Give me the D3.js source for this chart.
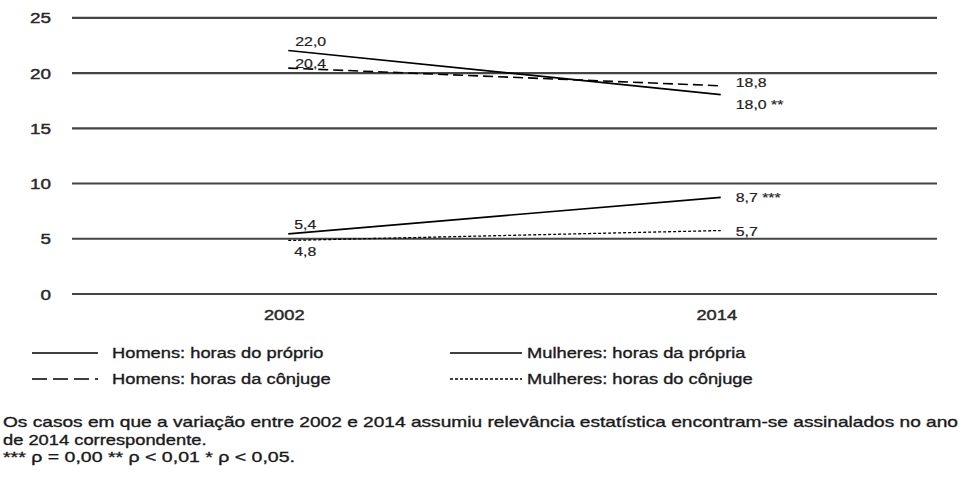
<!DOCTYPE html>
<html>
<head>
<meta charset="utf-8">
<script src="https://cdn.jsdelivr.net/npm/d3@7"></script>
<style>
  html, body { margin: 0; padding: 0; background: #fff; }
  svg { display: block; font-family: "Liberation Sans", Arial, sans-serif; }
</style>
</head>
<body>
<svg id="chart" width="963" height="477"></svg>
<script>
// ---------------- DATA ----------------
const years = ["2002", "2014"];
const yTicks = [0, 5, 10, 15, 20, 25];

const seriesNames = [
  "Homens: horas do próprio",
  "Homens: horas da cônjuge",
  "Mulheres: horas da própria",
  "Mulheres: horas do cônjuge"
];
const homensProprio   = [22.0, 18.0];
const homensConjuge   = [20.4, 18.8];
const mulheresPropria = [5.4, 8.7];
const mulheresConjuge = [4.8, 5.7];

const homensProprioSig   = ["", "**"];
const homensConjugeSig   = ["", ""];
const mulheresPropriaSig = ["", "***"];
const mulheresConjugeSig = ["", ""];

const footnoteLines = [
  "Os casos em que a variação entre 2002 e 2014 assumiu relevância estatística encontram-se assinalados no ano",
  "de 2014 correspondente.",
  "*** ρ = 0,00 ** ρ < 0,01 * ρ < 0,05."
];

// ---------------- STYLE / LAYOUT ----------------
const SX = 1.22; // horizontal stretch of the reference's type
const plot = { left: 72, right: 937, top: 17.3, bottom: 293.5 };

const styles = [
  { dash: null,    width: 1.6, legendDash: null },
  { dash: "10,5",  width: 1.6, legendDash: "15,6" },
  { dash: null,    width: 1.6, legendDash: null },
  { dash: "3,2",   width: 1.3, legendDash: "3,2" }
];
// label offsets (dx, dy) relative to point, per series per year
const labelOffsets = [
  [[7, -4], [15, 14]],
  [[7, 0],  [15, 1]],
  [[6, -5], [15, 5]],
  [[6, 16], [15, 5]]
];
const footTargets = [955, null, 292];

const series = [
  { name: seriesNames[0], values: homensProprio,   sig: homensProprioSig },
  { name: seriesNames[1], values: homensConjuge,   sig: homensConjugeSig },
  { name: seriesNames[2], values: mulheresPropria, sig: mulheresPropriaSig },
  { name: seriesNames[3], values: mulheresConjuge, sig: mulheresConjugeSig }
];

const svg = d3.select("#chart");
svg.append("rect").attr("width", 963).attr("height", 477).attr("fill", "#fff");

const x = d3.scalePoint().domain(years).range([plot.left, plot.right]).padding(0.5);
const y = d3.scaleLinear().domain([0, 25]).range([plot.bottom, plot.top]);

const fmt = v => d3.format(".1f")(v).replace(".", ",");

function stretchedText(parent, px, py, str, opts) {
  const g = parent.append("g").attr("transform", `translate(${px},${py}) scale(${SX},1)`);
  return g.append("text")
    .attr("text-anchor", opts.anchor || "start")
    .attr("font-size", opts.size || 15)
    .attr("fill", opts.fill || "#222")
    .attr("stroke", opts.fill || "#222")
    .attr("stroke-width", opts.sw == null ? 0.3 : opts.sw)
    .text(str);
}

// gridlines + y tick labels via axis
const yAxis = d3.axisLeft(y).tickValues(yTicks).tickSize(-(plot.right - plot.left)).tickPadding(0);
const gy = svg.append("g").attr("transform", `translate(${plot.left},0)`).call(yAxis);
gy.select(".domain").remove();
gy.selectAll(".tick line").attr("stroke", "#444").attr("stroke-width", 2.2);
gy.selectAll(".tick text")
  .attr("x", -21 / SX)
  .attr("dy", "0.36em")
  .attr("transform", `scale(${SX},1)`)
  .attr("font-size", 15.5)
  .attr("font-family", "Liberation Sans, Arial, sans-serif")
  .attr("fill", "#2a2a2a")
  .attr("stroke", "#2a2a2a")
  .attr("stroke-width", 0.45)
  .attr("text-anchor", "end");

// x labels
years.forEach((yr, i) => {
  stretchedText(svg, x(yr) - 4, 320, yr, { anchor: "middle", size: 15, fill: "#2a2a2a", sw: 0.45 });
});

// lines
const line = d3.line().x((d, i) => x(years[i])).y(d => y(d));
series.forEach((s, si) => {
  svg.append("path")
    .datum(s.values)
    .attr("d", line)
    .attr("fill", "none")
    .attr("stroke", "#000")
    .attr("stroke-width", styles[si].width)
    .attr("stroke-dasharray", styles[si].dash);
});

// data labels
series.forEach((s, si) => {
  s.values.forEach((v, i) => {
    const [dx, dy] = labelOffsets[si][i];
    const txt = fmt(v) + (s.sig[i] ? " " + s.sig[i] : "");
    stretchedText(svg, x(years[i]) + dx, y(v) + dy, txt, { size: 13, fill: "#222", sw: 0.2 });
  });
});

// legend
const legendPos = [
  { x1: 32, x2: 98, tx: 112, y: 353 },
  { x1: 32, x2: 98, tx: 112, y: 379 },
  { x1: 450, x2: 522, tx: 527, y: 353 },
  { x1: 450, x2: 522, tx: 527, y: 379 }
];
series.forEach((s, si) => {
  const p = legendPos[si];
  svg.append("line")
    .attr("x1", p.x1).attr("x2", p.x2).attr("y1", p.y).attr("y2", p.y)
    .attr("stroke", "#000").attr("stroke-width", styles[si].width)
    .attr("stroke-dasharray", styles[si].legendDash);
  stretchedText(svg, p.tx, p.y + 5, s.name, { size: 15, fill: "#1a1a1a", sw: 0.35 });
});

// footnote
const footY = [427, 445, 462];
footnoteLines.forEach((t, i) => {
  const el = svg.append("text")
    .attr("x", 3).attr("y", footY[i])
    .attr("font-size", 15).attr("fill", "#1a1a1a")
    .attr("stroke", "#1a1a1a").attr("stroke-width", 0.35)
    .text(t);
  const w = el.node().getComputedTextLength();
  const target = footTargets[i] != null ? footTargets[i] : w * SX;
  el.attr("textLength", target).attr("lengthAdjust", "spacingAndGlyphs");
});
</script>
</body>
</html>
